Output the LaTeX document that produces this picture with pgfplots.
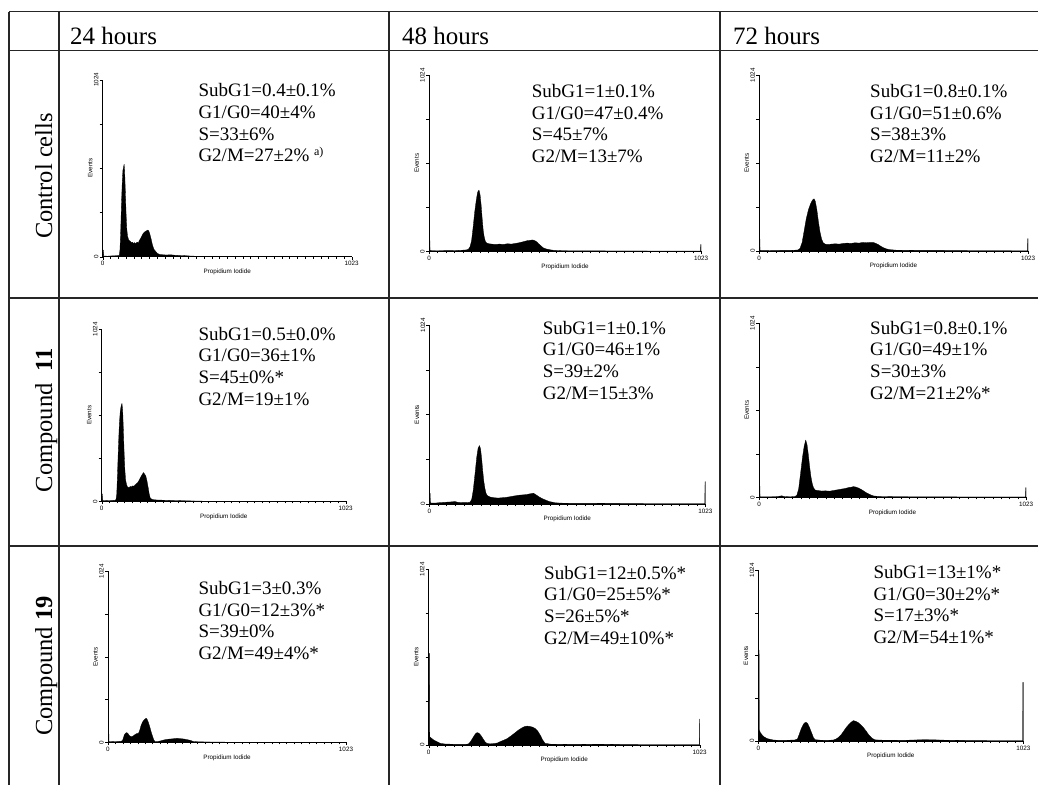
\documentclass[border=0pt]{standalone}
\usepackage{fontspec}
\setmainfont{Liberation Serif}
\setsansfont{Liberation Sans}
\usepackage{pgfplots}
\pgfplotsset{compat=1.18}

\pgfplotsset{
  hist/.style={
    scale only axis,
    xmin=0, xmax=1023, ymin=0, ymax=1024,
    axis x line=bottom, axis y line=left,
    axis line style={-, line width=0.6pt},
    xtick={0,1023}, xticklabels={0,1023},
    minor xtick={32,64,...,992},
    ytick={0,256,512,768,1024}, yticklabels={0,,,,1024},
    tick align=outside,
    major tick length=3pt, minor tick length=2pt,
    tick style={line width=0.4pt, black},
    every tick label/.append style={font=\fontsize{6.3}{7}\selectfont\sffamily},
    yticklabel style={rotate=90, anchor=south, inner sep=1pt},
    xticklabel style={inner sep=1.5pt},
    xlabel={Propidium Iodide}, ylabel={Events},
    every axis label/.append style={font=\fontsize{6.3}{7}\selectfont\sffamily},
    xlabel style={yshift=2pt},
    ylabel style={yshift=-3pt},
    /pgf/number format/assume math mode=true,
  },
  histfill/.style={fill=black, draw=black, line width=0.3pt, line join=round},
}

\newcommand{\stats}[6]{%
  \begin{scope}[every node/.style={anchor=base west, inner sep=0pt, font=\fontsize{19}{22}\selectfont}]
    \node at (#1pt,-#2pt) {#3};
    \node[yshift=-21.7pt] at (#1pt,-#2pt) {#4};
    \node[yshift=-43.4pt] at (#1pt,-#2pt) {#5};
    \node[yshift=-65.1pt] at (#1pt,-#2pt) {#6};
  \end{scope}}

\begin{document}
\begin{tikzpicture}
\useasboundingbox (0pt,0pt) rectangle (1038pt,-785pt);

% table grid
\begin{scope}[line width=1.2pt, color=black!85]
  \draw (9pt,-11.5pt) -- (1038pt,-11.5pt);
  \draw (9pt,-50.5pt) -- (1038pt,-50.5pt);
  \draw (9pt,-298pt) -- (1038pt,-298pt);
  \draw (9pt,-546pt) -- (1038pt,-546pt);
  \draw (9pt,-11.5pt) -- (9pt,-785pt);
  \draw (59pt,-11.5pt) -- (59pt,-785pt);
  \draw (389pt,-11.5pt) -- (389pt,-785pt);
  \draw (720pt,-11.5pt) -- (720pt,-785pt);
\end{scope}

% headers
\begin{scope}[every node/.style={anchor=base west, inner sep=0pt, font=\fontsize{25}{28}\selectfont}]
  \node at (70pt,-44pt) {24 hours};
  \node at (402pt,-44pt) {48 hours};
  \node at (733pt,-44pt) {72 hours};
\end{scope}
\begin{scope}[every node/.style={anchor=base, rotate=90, inner sep=0pt, font=\fontsize{24.5}{28}\selectfont}]
  \node at (52pt,-176pt) {Control cells};
  \node at (52pt,-420pt) {Compound\ \ \textbf{11}};
  \node at (52pt,-666pt) {Compound \textbf{19}};
\end{scope}

% ---------- Row 1: control cells ----------
\begin{axis}[hist, at={(102.7pt,-256.7pt)}, anchor=south west, width=249pt, height=177pt]
\addplot[histfill] coordinates {(0,0)(0,38)(3,38)(4,4)(20,3)(40,5)(60,6)(68,8)(71,40)(74,150)(77,300)(80,420)(83,500)(86,520)(88,535)(90,500)(93,380)(96,250)(99,160)(102,120)(106,100)(110,92)(114,88)(118,80)(122,84)(126,76)(130,82)(134,74)(138,80)(142,84)(146,78)(150,92)(155,104)(160,118)(165,132)(170,140)(175,146)(180,150)(185,154)(188,152)(192,140)(196,118)(200,96)(204,70)(208,52)(212,40)(218,30)(224,20)(232,14)(240,12)(260,10)(280,11)(300,8)(320,7)(340,6)(360,4)(380,3)(400,1)(450,1)(500,0)(1023,0)} \closedcycle;
\end{axis}
\stats{198.3}{96.7}{SubG1=0.4±0.1\%}{G1/G0=40±4\%}{S=33±6\%}{G2/M=27±2\% {\fontsize{12}{12}\selectfont\raisebox{6pt}{a)}}}

\begin{axis}[hist, at={(429pt,-251.3pt)}, anchor=south west, width=272pt, height=176pt]
\addplot[histfill] coordinates {(0,0)(0,75)(3,75)(4,4)(30,3)(60,4)(90,4)(120,6)(140,8)(148,12)(154,25)(160,60)(166,140)(172,230)(178,300)(183,345)(188,356)(192,330)(196,270)(200,190)(204,120)(208,80)(212,58)(217,48)(225,44)(235,42)(250,40)(265,42)(280,40)(295,44)(310,42)(325,46)(340,50)(350,54)(360,58)(370,62)(380,64)(390,66)(398,62)(406,54)(414,42)(422,30)(430,20)(440,14)(455,9)(468,6)(490,4)(530,3)(600,3)(700,2)(800,2)(900,1)(1018,1)(1021,1)(1022,40)(1023,40)(1023,0)} \closedcycle;
\end{axis}
\stats{531.7}{97.3}{SubG1=1±0.1\%}{G1/G0=47±0.4\%}{S=45±7\%}{G2/M=13±7\%}

\begin{axis}[hist, at={(759pt,-251pt)}, anchor=south west, width=269pt, height=176pt]
\addplot[histfill] coordinates {(0,0)(0,85)(3,85)(4,3)(40,2)(80,3)(120,3)(148,6)(156,15)(164,50)(172,120)(180,190)(188,240)(196,275)(203,295)(209,304)(214,290)(220,240)(226,170)(232,110)(238,70)(244,48)(252,40)(262,38)(275,40)(290,42)(305,40)(320,44)(335,46)(350,44)(365,48)(380,46)(395,50)(409,48)(420,50)(434,50)(445,44)(455,36)(465,26)(475,18)(485,12)(497,8)(520,5)(560,4)(620,3)(700,3)(800,2)(900,2)(1018,1)(1021,1)(1022,72)(1023,72)(1023,0)} \closedcycle;
\end{axis}
\stats{870}{97.3}{SubG1=0.8±0.1\%}{G1/G0=51±0.6\%}{S=38±3\%}{G2/M=11±2\%}

% ---------- Row 2: compound 11 ----------
\begin{axis}[hist, at={(101.7pt,-501.3pt)}, anchor=south west, width=244pt, height=172pt]
\addplot[histfill] coordinates {(0,0)(0,44)(3,44)(4,5)(20,4)(40,5)(55,6)(60,10)(63,40)(66,150)(70,320)(74,460)(78,540)(82,570)(85,583)(88,540)(91,420)(94,290)(97,190)(100,130)(104,100)(108,86)(112,80)(116,84)(120,88)(125,86)(130,92)(135,90)(140,98)(145,104)(150,110)(155,120)(160,134)(165,148)(170,160)(175,171)(180,162)(185,150)(190,120)(195,80)(199,45)(203,22)(208,14)(215,10)(230,8)(250,7)(270,6)(300,5)(330,4)(360,3)(384,2)(420,1)(480,0)(1023,0)} \closedcycle;
\end{axis}
\stats{198.3}{340}{SubG1=0.5±0.0\%}{G1/G0=36±1\%}{S=45±0\%*}{G2/M=19±1\%}

\begin{axis}[hist, at={(429.3pt,-504pt)}, anchor=south west, width=276pt, height=179pt]
\addplot[histfill] coordinates {(0,0)(0,61)(3,61)(4,6)(20,5)(40,8)(60,10)(80,12)(95,14)(105,10)(120,8)(140,8)(150,10)(157,25)(163,80)(170,180)(176,270)(181,320)(186,334)(190,315)(194,260)(198,190)(202,130)(206,90)(210,62)(215,48)(225,40)(240,36)(255,34)(270,36)(285,38)(300,42)(315,46)(330,50)(345,52)(360,54)(372,58)(380,60)(386,62)(392,56)(400,48)(410,38)(420,30)(432,22)(445,14)(458,10)(466,7)(490,5)(530,4)(600,4)(700,3)(800,2)(900,2)(1018,2)(1021,2)(1022,128)(1023,128)(1023,0)} \closedcycle;
\end{axis}
\stats{542.7}{334}{SubG1=1±0.1\%}{G1/G0=46±1\%}{S=39±2\%}{G2/M=15±3\%}

\begin{axis}[hist, at={(759pt,-497.3pt)}, anchor=south west, width=267pt, height=174pt]
\addplot[histfill] coordinates {(0,0)(0,82)(3,82)(4,3)(40,3)(70,4)(80,7)(87,9)(95,5)(120,3)(138,5)(145,12)(152,50)(160,150)(167,240)(173,300)(179,337)(184,310)(189,250)(194,180)(199,120)(204,80)(209,56)(215,43)(225,40)(240,37)(255,38)(270,36)(285,40)(300,44)(315,48)(330,52)(345,58)(355,60)(362,63)(372,60)(382,54)(392,46)(402,36)(412,26)(425,16)(439,8)(460,5)(500,4)(600,3)(700,3)(800,2)(900,2)(1018,2)(1021,2)(1022,57)(1023,57)(1023,0)} \closedcycle;
\end{axis}
\stats{870}{334}{SubG1=0.8±0.1\%}{G1/G0=49±1\%}{S=30±3\%}{G2/M=21±2\%*}

% ---------- Row 3: compound 19 ----------
\begin{axis}[hist, at={(108pt,-742.3pt)}, anchor=south west, width=238pt, height=171pt]
\addplot[histfill] coordinates {(0,0)(0,130)(3,130)(4,5)(20,4)(40,5)(55,6)(62,10)(66,25)(70,44)(75,54)(80,58)(85,54)(90,44)(96,36)(102,34)(108,38)(114,44)(120,50)(126,54)(131,54)(136,70)(142,100)(148,120)(154,132)(160,140)(164,144)(168,138)(174,118)(180,90)(186,60)(192,34)(197,14)(202,5)(210,4)(225,8)(240,14)(255,18)(270,20)(285,22)(296,24)(310,22)(325,20)(340,16)(353,12)(367,5)(390,3)(430,2)(500,1)(600,0)(1023,0)} \closedcycle;
\end{axis}
\stats{198.3}{594.3}{SubG1=3±0.3\%}{G1/G0=12±3\%*}{S=39±0\%}{G2/M=49±4\%*}

\begin{axis}[hist, at={(428.7pt,-745pt)}, anchor=south west, width=271pt, height=176pt]
\addplot[histfill] coordinates {(0,0)(0,533)(3,533)(4,48)(8,42)(14,35)(20,28)(30,20)(43,10)(60,6)(80,5)(100,4)(120,4)(140,4)(150,6)(158,20)(166,40)(174,60)(180,70)(184,72)(190,68)(198,54)(206,34)(213,18)(219,10)(230,7)(245,8)(260,12)(269,19)(280,26)(295,36)(310,52)(325,70)(340,88)(352,100)(363,108)(372,110)(382,108)(392,104)(402,96)(412,80)(422,55)(430,30)(439,10)(460,5)(500,4)(550,3)(600,4)(640,5)(680,4)(720,3)(800,2)(900,2)(1018,2)(1021,2)(1022,151)(1023,151)(1023,0)} \closedcycle;
\end{axis}
\stats{544}{579}{SubG1=12±0.5\%*}{G1/G0=25±5\%*}{S=26±5\%*}{G2/M=49±10\%*}

\begin{axis}[hist, at={(758.3pt,-741pt)}, anchor=south west, width=265pt, height=171pt]
\addplot[histfill] coordinates {(0,0)(0,545)(3,545)(4,66)(8,50)(14,38)(22,25)(35,14)(58,6)(80,4)(100,4)(120,5)(140,6)(151,12)(158,40)(166,75)(174,100)(180,110)(184,112)(190,106)(198,80)(206,48)(213,20)(219,8)(240,5)(265,4)(290,6)(300,12)(310,22)(320,38)(330,60)(340,82)(350,100)(358,112)(367,122)(376,118)(386,110)(396,96)(406,80)(416,60)(426,38)(438,18)(450,7)(480,5)(520,5)(560,4)(600,6)(640,8)(680,7)(720,5)(760,4)(800,3)(900,2)(1018,2)(1020,2)(1020,176)(1021,176)(1021,351)(1023,351)(1023,0)} \closedcycle;
\end{axis}
\stats{873.3}{578.3}{SubG1=13±1\%*}{G1/G0=30±2\%*}{S=17±3\%*}{G2/M=54±1\%*}

\end{tikzpicture}
\end{document}
